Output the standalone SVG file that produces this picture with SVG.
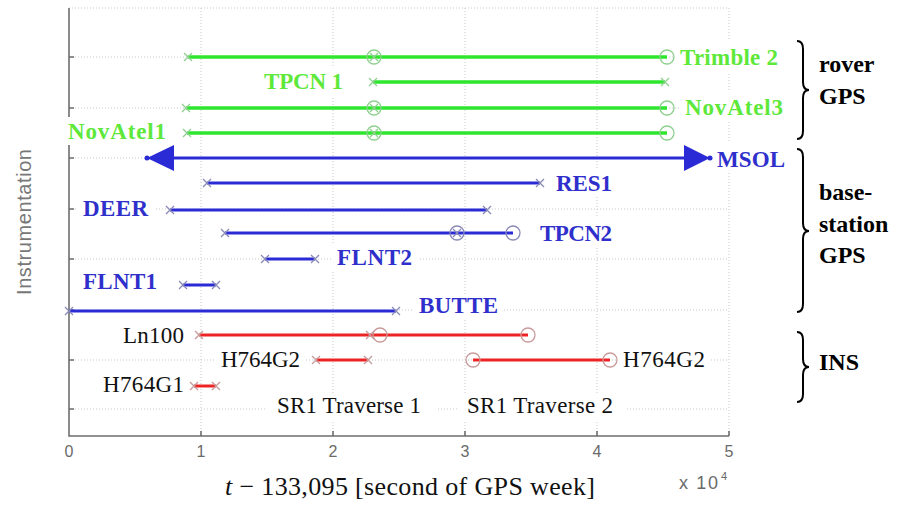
<svg xmlns="http://www.w3.org/2000/svg" xmlns:xlink="http://www.w3.org/1999/xlink" width="901" height="506" viewBox="0 0 901 506">
  <style>
    .grid { stroke: #c8c8c8; stroke-width: 1; stroke-dasharray: 1 2; fill: none; }
    .axis { stroke: #6e6e6e; stroke-width: 1.6; fill: none; }
    .sans { font-family: "Liberation Sans", Arial, sans-serif; }
    .serif { font-family: "Liberation Serif", "Times New Roman", serif; }
    .tick { font-family: "Liberation Sans", Arial, sans-serif; font-size: 16px; fill: #6a6a6a; text-anchor: middle; }
    .bg { fill: #ffffff; }
    .g { stroke: #2ee62e; stroke-width: 3.5; fill: none; }
    .b { stroke: #2b2bd6; stroke-width: 3; fill: none; }
    .r { stroke: #ee2424; stroke-width: 3; fill: none; }
    .gm { stroke: #8fcf8f; stroke-width: 1.3; fill: none; }
    .bm { stroke: #8a8ab8; stroke-width: 1.3; fill: none; }
    .rm { stroke: #c99a9a; stroke-width: 1.3; fill: none; }
    .lg { font-family: "Liberation Serif", "Times New Roman", serif; font-weight: bold; font-size: 23px; fill: #5ee83a; }
    .lb { font-family: "Liberation Serif", "Times New Roman", serif; font-weight: bold; font-size: 23px; fill: #2f2fcc; }
    .lr { font-family: "Liberation Serif", "Times New Roman", serif; font-size: 23px; fill: #111111; }
    .grp { font-family: "Liberation Serif", "Times New Roman", serif; font-weight: bold; font-size: 24px; fill: #000000; }
    .brace { stroke: #000000; stroke-width: 2; fill: none; }
  </style>
  <defs>
    <path id="xm" d="M-4,-4 L4,4 M-4,4 L4,-4"/>
    <circle id="om" r="7"/>
  </defs>

  <rect width="901" height="506" fill="#ffffff"/>

  <!-- grid and axes -->
  <g id="axes">
    <path class="grid" d="M201,8 V436 M333,8 V436 M465,8 V436 M597,8 V436"/>
    <path class="grid" d="M69,57 H729 M69,108 H729 M69,158 H729 M69,209 H729 M69,259 H729 M69,310 H729 M69,360 H729 M69,409 H729"/>
    <path class="grid" d="M69,8 H729 V436"/>
    <path class="axis" d="M69,8 V436 H729"/>
    <path class="axis" d="M69,57 h5 M69,108 h5 M69,158 h5 M69,209 h5 M69,259 h5 M69,310 h5 M69,360 h5 M69,409 h5 M201,436 v-5 M333,436 v-5 M465,436 v-5 M597,436 v-5 M729,436 v-5"/>
    <text class="tick" x="69" y="457">0</text>
    <text class="tick" x="201" y="457">1</text>
    <text class="tick" x="333" y="457">2</text>
    <text class="tick" x="465" y="457">3</text>
    <text class="tick" x="597" y="457">4</text>
    <text class="tick" x="729" y="457">5</text>
    <text class="sans" x="679" y="489" font-size="18" fill="#6a6a6a" textLength="39">x 10</text>
    <text class="sans" x="721" y="480" font-size="11" fill="#6a6a6a">4</text>
    <text class="sans" x="0" y="0" transform="translate(31,222) rotate(-90)" text-anchor="middle" font-size="20" fill="#777777" textLength="146">Instrumentation</text>
    <text class="serif" x="225" y="495" font-size="26" fill="#111111" textLength="370"><tspan font-style="italic">t</tspan> − 133,095 [second of GPS week]</text>
  </g>

  <!-- label backgrounds -->
  <g id="label-backgrounds">
    <rect class="bg" x="674" y="40" width="110" height="32"/>
    <rect class="bg" x="258" y="66" width="92" height="30"/>
    <rect class="bg" x="679" y="91" width="110" height="30"/>
    <rect class="bg" x="62" y="117" width="110" height="28"/>
    <rect class="bg" x="711" y="142" width="80" height="30"/>
    <rect class="bg" x="550" y="168" width="68" height="28"/>
    <rect class="bg" x="77" y="193" width="77" height="28"/>
    <rect class="bg" x="534" y="218" width="84" height="28"/>
    <rect class="bg" x="331" y="244" width="87" height="28"/>
    <rect class="bg" x="77" y="268" width="86" height="26"/>
    <rect class="bg" x="413" y="294" width="91" height="26"/>
    <rect class="bg" x="117" y="322" width="73" height="26"/>
    <rect class="bg" x="215" y="346" width="91" height="26"/>
    <rect class="bg" x="617" y="346" width="94" height="26"/>
    <rect class="bg" x="97" y="372" width="93" height="26"/>
    <rect class="bg" x="265" y="394" width="172" height="26"/>
    <rect class="bg" x="458" y="394" width="168" height="26"/>
  </g>

  <!-- rover GPS -->
  <g id="trimble2">
    <path class="g" d="M188,57 H667"/>
    <use xlink:href="#xm" x="188" y="57" class="gm"/>
    <use xlink:href="#om" x="374" y="57" class="gm"/>
    <use xlink:href="#xm" x="374" y="57" class="gm"/>
    <use xlink:href="#om" x="667" y="57" class="gm"/>
    <text class="lg" x="680" y="65" textLength="98">Trimble 2</text>
  </g>
  <g id="tpcn1">
    <path class="g" d="M373,82 H665"/>
    <use xlink:href="#xm" x="373" y="82" class="gm"/>
    <use xlink:href="#xm" x="665" y="82" class="gm"/>
    <text class="lg" x="264" y="89" textLength="79">TPCN 1</text>
  </g>
  <g id="novatel3">
    <path class="g" d="M186,108 H667"/>
    <use xlink:href="#xm" x="186" y="108" class="gm"/>
    <use xlink:href="#om" x="374" y="108" class="gm"/>
    <use xlink:href="#xm" x="374" y="108" class="gm"/>
    <use xlink:href="#om" x="667" y="108" class="gm"/>
    <text class="lg" x="685" y="115" textLength="98">NovAtel3</text>
  </g>
  <g id="novatel1">
    <path class="g" d="M187,133 H667"/>
    <use xlink:href="#xm" x="187" y="133" class="gm"/>
    <use xlink:href="#om" x="374" y="133" class="gm"/>
    <use xlink:href="#xm" x="374" y="133" class="gm"/>
    <use xlink:href="#om" x="667" y="133" class="gm"/>
    <text class="lg" x="68" y="139" textLength="98">NovAtel1</text>
  </g>

  <!-- base-station GPS -->
  <g id="msol">
    <path class="b" d="M172,158 H686"/>
    <path d="M147,158 L174,145 L174,171 Z" fill="#2b2bd6"/>
    <path d="M710,158 L684,145 L684,171 Z" fill="#2b2bd6"/>
    <circle cx="147" cy="158" r="2.5" fill="#2b2bd6"/>
    <circle cx="710" cy="158" r="2.5" fill="#2b2bd6"/>
    <text class="lb" x="717" y="167" textLength="68">MSOL</text>
  </g>
  <g id="res1">
    <path class="b" d="M207,183 H540"/>
    <use xlink:href="#xm" x="207" y="183" class="bm"/>
    <use xlink:href="#xm" x="540" y="183" class="bm"/>
    <text class="lb" x="556" y="191" textLength="56">RES1</text>
  </g>
  <g id="deer">
    <path class="b" d="M170,210 H487"/>
    <use xlink:href="#xm" x="170" y="210" class="bm"/>
    <use xlink:href="#xm" x="487" y="210" class="bm"/>
    <text class="lb" x="83" y="216" textLength="65">DEER</text>
  </g>
  <g id="tpcn2">
    <path class="b" d="M225,233 H513"/>
    <use xlink:href="#xm" x="225" y="233" class="bm"/>
    <use xlink:href="#om" x="457" y="233" class="bm"/>
    <use xlink:href="#xm" x="457" y="233" class="bm"/>
    <use xlink:href="#om" x="513" y="233" class="bm"/>
    <text class="lb" x="540" y="241" textLength="72">TPCN2</text>
  </g>
  <g id="flnt2">
    <path class="b" d="M265,259 H315"/>
    <use xlink:href="#xm" x="265" y="259" class="bm"/>
    <use xlink:href="#xm" x="315" y="259" class="bm"/>
    <text class="lb" x="337" y="265" textLength="75">FLNT2</text>
  </g>
  <g id="flnt1">
    <path class="b" d="M183,285 H216"/>
    <use xlink:href="#xm" x="183" y="285" class="bm"/>
    <use xlink:href="#xm" x="216" y="285" class="bm"/>
    <text class="lb" x="83" y="289" textLength="74">FLNT1</text>
  </g>
  <g id="butte">
    <path class="b" d="M69,311 H396"/>
    <use xlink:href="#xm" x="69" y="311" class="bm"/>
    <use xlink:href="#xm" x="396" y="311" class="bm"/>
    <text class="lb" x="419" y="313" textLength="79">BUTTE</text>
  </g>

  <!-- INS -->
  <g id="ln100">
    <path class="r" d="M199,335 H528"/>
    <use xlink:href="#xm" x="199" y="335" class="rm"/>
    <use xlink:href="#xm" x="370" y="335" class="rm"/>
    <use xlink:href="#om" x="380" y="335" class="rm"/>
    <use xlink:href="#om" x="528" y="335" class="rm"/>
    <text class="lr" x="123" y="343" textLength="61">Ln100</text>
  </g>
  <g id="h764g2-a">
    <path class="r" d="M316,360 H368"/>
    <use xlink:href="#xm" x="316" y="360" class="rm"/>
    <use xlink:href="#xm" x="368" y="360" class="rm"/>
    <text class="lr" x="221" y="367" textLength="79">H764G2</text>
  </g>
  <g id="h764g2-b">
    <path class="r" d="M473,360 H610"/>
    <use xlink:href="#om" x="473" y="360" class="rm"/>
    <use xlink:href="#om" x="610" y="360" class="rm"/>
    <text class="lr" x="623" y="367" textLength="82">H764G2</text>
  </g>
  <g id="h764g1">
    <path class="r" d="M194,386 H216"/>
    <use xlink:href="#xm" x="194" y="386" class="rm"/>
    <use xlink:href="#xm" x="216" y="386" class="rm"/>
    <text class="lr" x="103" y="392" textLength="81">H764G1</text>
  </g>
  <g id="traverses">
    <text class="lr" x="277" y="413" textLength="144">SR1 Traverse 1</text>
    <text class="lr" x="467" y="413" textLength="146">SR1 Traverse 2</text>
  </g>

  <!-- group braces and names -->
  <g id="rover-gps">
    <path class="brace" d="M797,41 Q803,41 803,49 V82 Q803,90 809,90 Q803,90 803,98 V131 Q803,139 797,139"/>
    <text class="grp" x="819" y="72">rover</text>
    <text class="grp" x="819" y="104">GPS</text>
  </g>
  <g id="base-station-gps">
    <path class="brace" d="M797,149 Q803,149 803,157 V223 Q803,231 809,231 Q803,231 803,239 V304 Q803,312 797,312"/>
    <text class="grp" x="819" y="200">base-</text>
    <text class="grp" x="819" y="232">station</text>
    <text class="grp" x="819" y="263">GPS</text>
  </g>
  <g id="ins">
    <path class="brace" d="M797,332 Q803,332 803,340 V359 Q803,367 809,367 Q803,367 803,375 V394 Q803,402 797,402"/>
    <text class="grp" x="819" y="370">INS</text>
  </g>
</svg>
